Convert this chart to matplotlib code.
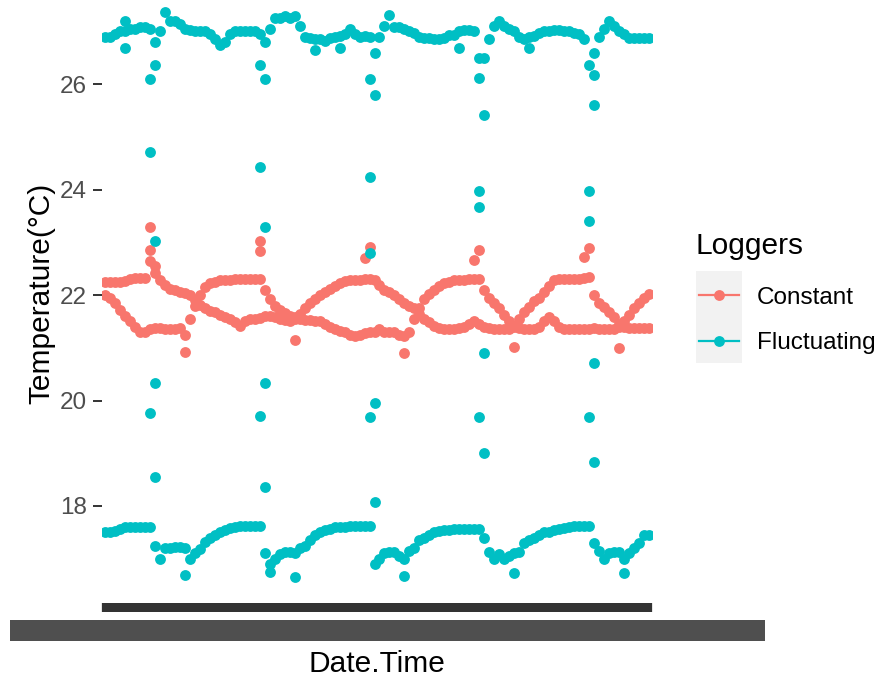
import matplotlib
matplotlib.use("Agg")
import matplotlib.pyplot as plt
import pandas as pd
from matplotlib.lines import Line2D
from matplotlib.patches import Rectangle

plt.rcParams["font.family"] = ["Liberation Sans", "DejaVu Sans"]

C_CONST = "#F8766D"
C_FLUCT = "#00BFC4"
C_TEXT = "#4D4D4D"
C_TICK = "#333333"

# Constant loggers (two traces), one reading per Date.Time category
const_a = [22.25, 22.25, 22.25, 22.25, 22.27, 22.30, 22.32, 22.32, 22.32, 22.65,
           22.42, 22.28, 22.20, 22.12, 22.10, 22.06, 22.04, 22.00, 21.90, 21.82,
           21.75, 21.70, 21.68, 21.62, 21.58, 21.55, 21.48, 21.42, 21.50, 21.55,
           21.55, 21.57, 21.60, 21.60, 21.58, 21.55, 21.52, 21.50, 21.55, 21.65,
           21.75, 21.85, 21.92, 22.00, 22.05, 22.12, 22.18, 22.22, 22.26, 22.28,
           22.28, 22.28, 22.30, 22.30, 22.28, 22.20, 22.10, 22.05, 22.00, 21.92,
           21.85, 21.80, 21.75, 21.65, 21.55, 21.48, 21.42, 21.38, 21.36, 21.36,
           21.36, 21.38, 21.40, 21.45, 21.50, 21.45, 21.40, 21.38, 21.36, 21.36,
           21.36, 21.36, 21.40, 21.55, 21.68, 21.78, 21.88, 21.95, 22.05, 22.18,
           22.28, 22.30, 22.30, 22.30, 22.30, 22.30, 22.32, 22.35, 22.00, 21.85,
           21.78, 21.68, 21.58, 21.45, 21.40, 21.38, 21.38, 21.38, 21.38, 21.38]
const_b = [22.00, 21.95, 21.85, 21.72, 21.60, 21.50, 21.40, 21.30, 21.30, 21.35,
           21.38, 21.38, 21.36, 21.36, 21.35, 21.38, 21.25, 21.55, 21.80, 22.00,
           22.15, 22.22, 22.25, 22.28, 22.28, 22.28, 22.30, 22.30, 22.30, 22.30,
           22.30, 22.30, 22.10, 21.92, 21.80, 21.72, 21.66, 21.60, 21.58, 21.55,
           21.53, 21.52, 21.50, 21.50, 21.45, 21.40, 21.36, 21.32, 21.30, 21.25,
           21.22, 21.25, 21.28, 21.30, 21.30, 21.35, 21.30, 21.30, 21.30, 21.25,
           21.22, 21.30, 21.55, 21.75, 21.92, 22.02, 22.10, 22.18, 22.22, 22.25,
           22.28, 22.28, 22.28, 22.30, 22.30, 22.30, 22.10, 21.95, 21.85, 21.75,
           21.62, 21.50, 21.42, 21.38, 21.36, 21.36, 21.36, 21.40, 21.50, 21.58,
           21.50, 21.40, 21.36, 21.36, 21.36, 21.36, 21.36, 21.36, 21.38, 21.36,
           21.36, 21.36, 21.36, 21.40, 21.50, 21.62, 21.75, 21.85, 21.95, 22.02]

# Fluctuating loggers: warm and cold traces
fluct_hot = [26.90, 26.90, 26.95, 27.00, 27.00, 27.05, 27.05, 27.08, 27.08, 27.05,
             26.80, 27.00, 27.36, 27.20, 27.20, 27.15, 27.05, 27.02, 27.00, 27.00,
             27.00, 26.95, 26.85, 26.75, 26.80, 26.95, 27.00, 27.00, 27.00, 27.00,
             27.00, 26.95, 26.80, 27.05, 27.25, 27.25, 27.30, 27.25, 27.30, 27.10,
             26.90, 26.88, 26.85, 26.85, 26.82, 26.88, 26.90, 26.92, 26.95, 27.05,
             26.95, 26.90, 26.92, 26.90, 26.60, 26.90, 27.10, 27.31, 27.08, 27.08,
             27.05, 27.00, 26.97, 26.90, 26.88, 26.88, 26.85, 26.85, 26.88, 26.93,
             26.93, 27.00, 27.02, 27.02, 27.00, 26.50, 26.50, 26.85, 27.10, 27.20,
             27.10, 27.05, 27.00, 26.90, 26.85, 26.90, 26.92, 26.97, 27.00, 27.00,
             27.02, 27.02, 27.00, 27.00, 26.98, 26.95, 26.85, 26.36, 26.60, 26.90,
             27.05, 27.20, 27.10, 27.00, 26.95, 26.88, 26.88, 26.88, 26.88, 26.88]
fluct_cold = [17.50, 17.50, 17.53, 17.57, 17.60, 17.60, 17.60, 17.60, 17.60, 17.60,
              17.25, 17.00, 17.20, 17.20, 17.22, 17.22, 17.20, 17.00, 17.10, 17.18,
              17.32, 17.40, 17.45, 17.50, 17.55, 17.58, 17.60, 17.62, 17.62, 17.62,
              17.62, 17.62, 17.10, 16.90, 17.00, 17.08, 17.12, 17.13, 17.10, 17.20,
              17.25, 17.35, 17.45, 17.50, 17.55, 17.57, 17.60, 17.60, 17.60, 17.62,
              17.62, 17.62, 17.62, 17.62, 16.90, 17.00, 17.10, 17.12, 17.12, 17.05,
              17.00, 17.15, 17.20, 17.35, 17.40, 17.45, 17.50, 17.52, 17.55, 17.55,
              17.57, 17.57, 17.57, 17.57, 17.57, 17.57, 17.40, 17.12, 17.00, 17.08,
              17.00, 17.05, 17.10, 17.12, 17.30, 17.35, 17.40, 17.45, 17.50, 17.50,
              17.55, 17.56, 17.58, 17.60, 17.62, 17.62, 17.62, 17.62, 17.30, 17.15,
              17.00, 17.10, 17.12, 17.12, 17.00, 17.10, 17.20, 17.30, 17.45, 17.45]

# Extra readings (spikes, transitions, stray points): category index + temperature
const_extra_idx = [9, 9, 10, 31, 31, 16, 38, 53, 52, 60, 75, 74, 82, 97, 96, 103]
const_extra_temp = [23.30, 22.85, 22.55, 23.02, 22.83, 20.92, 21.15, 22.91,
                    22.70, 20.90, 22.85, 22.66, 21.01, 22.90, 22.72, 21.00]
fluct_extra_idx = [9, 10, 9, 10, 9, 10, 10,
                   31, 32, 31, 32, 32, 31, 32,
                   53, 54, 53, 53, 54, 53, 54,
                   75, 76, 75, 75, 76, 75, 76,
                   98, 98, 97, 97, 98, 97, 98,
                   4, 4, 42, 47, 71, 85,
                   16, 33, 38, 60, 82, 104]
fluct_extra_temp = [26.09, 26.36, 24.71, 23.02, 19.76, 20.33, 18.55,
                    26.36, 26.09, 24.43, 23.29, 20.33, 19.70, 18.36,
                    26.10, 25.79, 24.24, 22.80, 19.95, 19.69, 18.08,
                    26.11, 25.41, 23.97, 23.67, 20.90, 19.69, 19.00,
                    26.17, 25.60, 23.97, 23.40, 20.71, 19.69, 18.83,
                    26.68, 27.20, 26.64, 26.68, 26.68, 26.68,
                    16.70, 16.75, 16.65, 16.68, 16.72, 16.72]

# Date.Time categories (logger timestamps, unreadable in the source picture)
date_time = list(pd.date_range("2019-06-01 00:00", periods=len(const_a), freq="2h")
                 .strftime("%d/%m/%Y %H:%M"))

y_ticks = [18, 20, 22, 24, 26]

W, H = 878, 678
fig = plt.figure(figsize=(W / 100, H / 100), dpi=100)
fig.patch.set_facecolor("white")


def fx(px):
    return px / W


def fy(py):
    return 1 - py / H


# panel (top is cut off by the image edge, as in the reference)
ax = fig.add_axes([fx(102), fy(603), 550 / W, 619 / H])
ax.set_facecolor("white")

PT = 61
for vals in (const_a, const_b):
    ax.scatter(date_time, vals, s=PT, color=C_CONST, linewidths=0, zorder=2)
ax.scatter([date_time[i] for i in const_extra_idx], const_extra_temp,
           s=PT, color=C_CONST, linewidths=0, zorder=2)
for vals in (fluct_hot, fluct_cold):
    ax.scatter(date_time, vals, s=PT, color=C_FLUCT, linewidths=0, zorder=3)
ax.scatter([date_time[i] for i in fluct_extra_idx], fluct_extra_temp,
           s=PT, color=C_FLUCT, linewidths=0, zorder=3)

ax.set_xlim(-0.6, len(date_time) - 0.4)
ax.set_ylim(16.16, 27.90)
ax.set_yticks(y_ticks)
for s in ax.spines.values():
    s.set_visible(False)

ax.tick_params(axis="y", length=6.5, width=1.4, color=C_TICK, pad=4.3,
               labelsize=17.5, labelcolor=C_TEXT)
# one tick per Date.Time category: packed so tightly they form a solid band
ax.tick_params(axis="x", length=6.5, width=4.5, color=C_TICK, labelbottom=False)

# the hundreds of Date.Time labels pile up into one unreadable grey strip
fig.patches.append(Rectangle((fx(10), fy(641)), 755 / W, 21 / H,
                             transform=fig.transFigure, facecolor="#4F4F4F",
                             edgecolor="none"))

ax.set_xlabel("Date.Time", fontsize=21.5, color="black", va="baseline")
ax.xaxis.set_label_coords(0.5, (603 - 672) / 619)
ax.set_ylabel("Temperature(°C)", fontsize=21.5, color="black", va="center")
ax.yaxis.set_label_coords((41 - 102) / 550, 0.5)

# legend
fig.text(fx(696), fy(254), "Loggers", fontsize=21.5, color="black",
         ha="left", va="baseline")
fig.patches.append(Rectangle((fx(696), fy(363)), 46 / W, 92 / H,
                             transform=fig.transFigure, facecolor="#F2F2F2",
                             edgecolor="none", zorder=0))
for label, color, yc in [("Constant", C_CONST, 295), ("Fluctuating", C_FLUCT, 341)]:
    fig.add_artist(Line2D([fx(699), fx(739)], [fy(yc), fy(yc)], color=color, lw=1.6))
    fig.add_artist(Line2D([fx(719)], [fy(yc)], marker="o", ms=7.8, color=color,
                          mec="none", lw=0))
    fig.text(fx(757), fy(yc + 8.5), label, fontsize=17.5, color="black",
             ha="left", va="baseline")

fig.savefig("out.png", dpi=100, facecolor="white")
